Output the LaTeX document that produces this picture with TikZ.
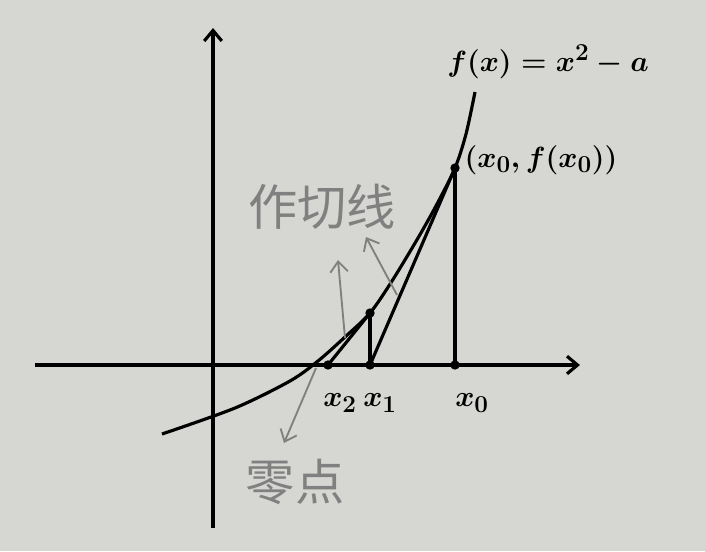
\documentclass[tikz,border=0pt]{standalone}
\usepackage{fontspec}
\newfontfamily\cjk{Noto Sans CJK SC}
\usepackage{tikz}
\usetikzlibrary{arrows.meta}
\definecolor{paper}{RGB}{214,214,211}
\definecolor{pencil}{RGB}{128,128,128}

\begin{document}
\begin{tikzpicture}[x=0.03cm,y=-0.03cm,>={Straight Barb[length=9pt,width=15pt]},line width=2.7pt,
  every node/.style={font=\fontsize{30}{34}\selectfont\boldmath},
  spot/.style={circle,fill,inner sep=0pt,minimum size=8pt},
  note/.style={pencil,font=\cjk\fontsize{42}{48}\selectfont},
  pencilarrow/.style={pencil,line width=1.6pt,->}]
\fill[paper] (0,0) rectangle (705,551);
% axes
\coordinate (xl) at (35,365); \coordinate (xr) at (580,365);
\coordinate (yb) at (213,528); \coordinate (yt) at (213,28);
\draw[->] (xl)--(xr); \draw[->] (yb)--(yt);
% curve and newton steps
\coordinate (P0) at (455,168); \coordinate (P1) at (370,313);
\coordinate (X0) at (455,365); \coordinate (X1) at (370,365); \coordinate (X2) at (328,365);
\draw plot[smooth,tension=0.5] coordinates {(162,434) (235,408) (290,381) (318,361) (345,337) (370,313) (392,281) (418,238) (437,204) (455,168) (466,134) (475,92)};
\draw (P0)--(X0); \draw (P0)--(X1); \draw (X1)--(P1); \draw (P1)--(X2);
\foreach \p in {P0,P1,X0,X1,X2} \node[spot] at (\p) {};
% labels
\node (lx2) at (340,403) {$x_2$};
\node (lx1) at (380,403) {$x_1$};
\node (lx0) at (472,403) {$x_0$};
\node (lf) at (548,62) {$f(x)=x^2-a$};
\node (lp0) at (541,160) {$(x_0,f(x_0))$};
% pencil notes
\node[note] (tq) at (322,207) {作切线};
\node[note] (zd) at (295,482) {零点};
\coordinate (a1s) at (345,338); \coordinate (a1e) at (338,260);
\coordinate (a2s) at (397,295); \coordinate (a2e) at (366,237);
\coordinate (a3s) at (316,368); \coordinate (a3e) at (284,443);
\draw[pencilarrow] (a1s)--(a1e);
\draw[pencilarrow] (a2s)--(a2e);
\draw[pencilarrow] (a3s)--(a3e);
\end{tikzpicture}
\end{document}
